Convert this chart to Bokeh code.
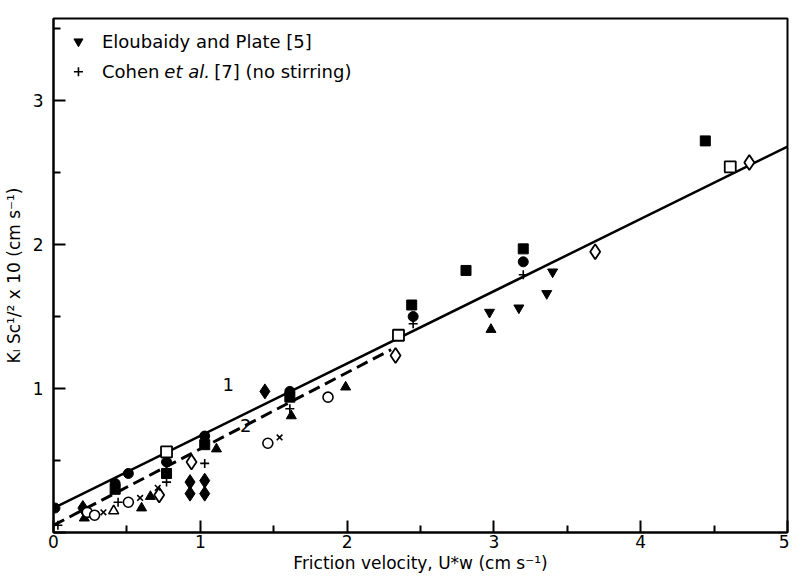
from bokeh.plotting import figure
from bokeh.models import Range1d, FixedTicker
from bokeh.core.properties import value
from bokeh.embed import file_html
from bokeh.resources import INLINE

# ---- data ----
filled_circle_x = [0.01, 0.42, 0.51, 0.77, 1.03, 1.61, 2.45, 3.20]
filled_circle_y = [0.17, 0.34, 0.41, 0.49, 0.67, 0.98, 1.50, 1.88]
filled_square_x = [0.42, 0.77, 1.03, 1.61, 2.44, 2.81, 3.20, 4.44]
filled_square_y = [0.30, 0.41, 0.61, 0.94, 1.58, 1.82, 1.97, 2.72]
open_square_x = [0.77, 2.35, 4.61]
open_square_y = [0.56, 1.37, 2.54]
open_diamond_x = [0.72, 0.94, 2.33, 3.69, 4.74]
open_diamond_y = [0.26, 0.49, 1.23, 1.95, 2.57]
filled_diamond_x = [0.20, 0.93, 0.93, 1.03, 1.03, 1.44]
filled_diamond_y = [0.17, 0.35, 0.27, 0.36, 0.27, 0.98]
tri_up_x = [0.21, 0.60, 0.66, 1.11, 1.62, 1.99, 2.98]
tri_up_y = [0.10, 0.17, 0.25, 0.58, 0.81, 1.01, 1.41]
tri_down_x = [2.97, 3.17, 3.36, 3.40]  # Eloubaidy and Plate [5]
tri_down_y = [1.53, 1.56, 1.66, 1.81]
open_circle_x = [0.23, 0.28, 0.51, 1.46, 1.87]
open_circle_y = [0.14, 0.12, 0.21, 0.62, 0.94]
x_mark_x = [0.34, 0.59, 0.71, 1.54]
x_mark_y = [0.14, 0.24, 0.31, 0.66]
open_tri_x = [0.41]
open_tri_y = [0.15]
cross_x = [0.03, 0.44, 0.77, 1.03, 1.61, 2.45, 3.20]  # Cohen et al. [7]
cross_y = [0.05, 0.21, 0.35, 0.48, 0.86, 1.45, 1.79]

line1_x = [0.0, 5.0]
line1_y = [0.17, 2.68]
line2_x = [0.0, 2.3]
line2_y = [0.05, 1.27]

curve_label_x = [1.19, 1.31]
curve_label_y = [1.03, 0.74]
curve_labels = ["1", "2"]

legend_marker_x = [0.17]
legend_y = [3.41, 3.20]
legend_text_x = 0.33

x_ticks = [0, 1, 2, 3, 4, 5]
y_ticks = [0, 1, 2, 3]

FONT = "DejaVu Sans"

p = figure(width=789, height=576, output_backend="svg", toolbar_location=None,
           x_range=Range1d(0, 5), y_range=Range1d(0, 3.57),
           min_border_left=47, min_border_right=2, min_border_top=18, min_border_bottom=44)
p.grid.visible = False
p.outline_line_color = "black"
p.outline_line_width = 2
p.background_fill_color = "white"

for ax in (p.xaxis[0], p.yaxis[0]):
    ax.axis_line_width = 2
    ax.major_tick_in = 12
    ax.major_tick_out = 0
    ax.minor_tick_in = 7
    ax.minor_tick_out = 0
    ax.major_tick_line_width = 2
    ax.minor_tick_line_width = 2
    ax.major_label_text_font = FONT
    ax.major_label_text_font_size = "17px"
    ax.major_label_text_color = "black"
    ax.axis_label_text_font = FONT
    ax.axis_label_text_font_style = "normal"
    ax.axis_label_text_font_size = "17px"
    ax.axis_label_text_color = "black"

p.xaxis.ticker = FixedTicker(ticks=x_ticks, minor_ticks=[0.5, 1.5, 2.5, 3.5, 4.5])
p.yaxis.ticker = FixedTicker(ticks=y_ticks, minor_ticks=[0.5, 1.5, 2.5, 3.5])
p.xaxis.major_label_standoff = 2
p.xaxis.axis_label = "Friction velocity, U*w (cm s⁻¹)"
p.xaxis.axis_label_standoff = 2
p.yaxis.major_label_standoff = 10
p.yaxis.major_label_overrides = {0: ""}
p.yaxis.axis_label = "Kₗ Sc¹/² x 10 (cm s⁻¹)"
p.yaxis.axis_label_standoff = 6

# lines
p.line(line1_x, line1_y, line_color="black", line_width=2.5)
p.line(line2_x, line2_y, line_color="black", line_width=3, line_dash="12 6")
p.text(curve_label_x, curve_label_y, text=curve_labels, text_font=value(FONT),
       text_font_size="18px", text_align="center", text_baseline="middle")

# markers
p.scatter(filled_square_x, filled_square_y, marker="square", size=10,
          fill_color="black", line_color="black")
p.scatter(filled_circle_x, filled_circle_y, marker="circle", size=10,
          fill_color="black", line_color="black")
p.scatter(open_square_x, open_square_y, marker="square", size=11,
          fill_color="white", line_color="black", line_width=1.8)
p.scatter(open_diamond_x, open_diamond_y, marker="diamond", size=15,
          fill_color="white", line_color="black", line_width=1.8)
p.scatter(filled_diamond_x, filled_diamond_y, marker="diamond", size=15,
          fill_color="black", line_color="black")
p.scatter(tri_up_x, tri_up_y, marker="triangle", size=10,
          fill_color="black", line_color="black")
p.scatter(tri_down_x, tri_down_y, marker="inverted_triangle", size=10,
          fill_color="black", line_color="black")
p.scatter(open_circle_x, open_circle_y, marker="circle", size=10,
          fill_color="white", line_color="black", line_width=1.6)
p.scatter(x_mark_x, x_mark_y, marker="x", size=8, line_color="black", line_width=1.6)
p.scatter(open_tri_x, open_tri_y, marker="triangle", size=10,
          fill_color="white", line_color="black", line_width=1.6)
p.scatter(cross_x, cross_y, marker="cross", size=9, line_color="black", line_width=1.6)

# legend (drawn as in the original figure)
p.scatter(legend_marker_x, [legend_y[0]], marker="inverted_triangle", size=9,
          fill_color="black", line_color="black")
p.scatter(legend_marker_x, [legend_y[1]], marker="cross", size=9,
          line_color="black", line_width=1.6)
p.text([legend_text_x], [legend_y[0]], text=["Eloubaidy and Plate [5]"],
       text_font=value(FONT), text_font_size="18px", text_baseline="middle")
p.text([legend_text_x], [legend_y[1]], text=["Cohen"],
       text_font=value(FONT), text_font_size="18px", text_baseline="middle")
p.text([0.755], [legend_y[1]], text=["et al."], text_font=value(FONT),
       text_font_style="italic", text_font_size="18px", text_baseline="middle")
p.text([1.095], [legend_y[1]], text=["[7] (no stirring)"],
       text_font=value(FONT), text_font_size="18px", text_baseline="middle")

open("out.html", "w").write(file_html(p, INLINE))
